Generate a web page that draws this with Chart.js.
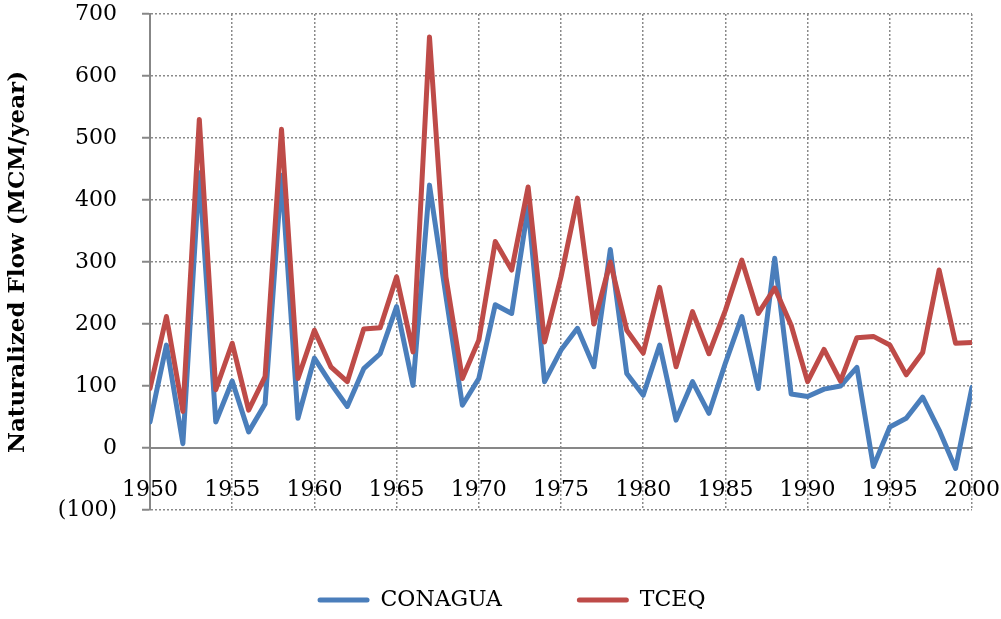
<!DOCTYPE html>
<html><head><meta charset="utf-8">
<script src="https://cdn.jsdelivr.net/npm/chart.js@4.4.1/dist/chart.umd.min.js"></script>
<style>html,body{margin:0;padding:0;background:#fff}#wrap{width:1001px;height:619px}</style>
</head><body><div id="wrap"><canvas id="c" width="1001" height="619"></canvas></div>
<script>
const years = [1950,1951,1952,1953,1954,1955,1956,1957,1958,1959,
  1960,1961,1962,1963,1964,1965,1966,1967,1968,1969,
  1970,1971,1972,1973,1974,1975,1976,1977,1978,1979,
  1980,1981,1982,1983,1984,1985,1986,1987,1988,1989,
  1990,1991,1992,1993,1994,1995,1996,1997,1998,1999,2000];
const conagua = [42,166,7,444,42,108,26,71,440,48,
  145,104,67,128,152,228,101,424,245,69,
  112,231,217,389,107,158,193,131,320,120,
  85,166,45,107,56,137,212,96,306,87,
  83,95,100,130,-30,34,48,82,29,-33,98];
const tceq = [96,212,59,530,94,169,61,115,514,112,
  190,131,107,192,194,276,155,663,276,112,
  174,333,287,421,171,276,403,200,300,190,
  153,259,131,220,152,222,303,217,258,198,
  107,159,108,178,180,166,118,154,287,169,170];
const seriesNames = ['CONAGUA','TCEQ'];
const yTickValues = [-100,0,100,200,300,400,500,600,700];
const xTickValues = [1950,1955,1960,1965,1970,1975,1980,1985,1990,1995,2000];

const toPts = arr => years.map((y,i)=>({x:y,y:arr[i]}));
const gridGray = '#8a8a8a';
const axisGray = '#878787';
const tickFont = {family:'DejaVu Serif', size:22};

const legendShift = {
  id:'legendShift',
  afterLayout(chart){
    const lg = chart.legend;
    if (!lg) return;
    lg.left += 11; lg.right += 11;
    lg.top += 4; lg.bottom += 4;
  }
};

new Chart(document.getElementById('c'), {
  type:'line',
  data:{datasets:[
    {label:seriesNames[0], data:toPts(conagua), borderColor:'#4a7ebb', backgroundColor:'#4a7ebb',
     borderWidth:5, pointRadius:0, tension:0, borderJoinStyle:'round', borderCapStyle:'round', order:2},
    {label:seriesNames[1], data:toPts(tceq), borderColor:'#be4b48', backgroundColor:'#be4b48',
     borderWidth:5, pointRadius:0, tension:0, borderJoinStyle:'round', borderCapStyle:'round', order:1}
  ]},
  plugins:[legendShift],
  options:{
    responsive:false, animation:false, devicePixelRatio:1,
    layout:{padding:{top:14,right:0,bottom:2,left:0}},
    plugins:{
      tooltip:{enabled:false},
      legend:{position:'bottom',
        labels:{boxWidth:52, boxHeight:5, padding:75, color:'#000', useBorderRadius:true, borderRadius:2.5,
          font:{family:'DejaVu Serif', size:22},
          generateLabels:(chart)=>Chart.defaults.plugins.legend.labels.generateLabels(chart)
            .map(it=>Object.assign(it,{lineWidth:0})),
          sort:(a,b)=>a.datasetIndex-b.datasetIndex}}
    },
    scales:{
      x:{type:'linear', min:1950, max:2000, position:{y:0},
        afterBuildTicks: s => { s.ticks = xTickValues.map(v=>({value:v})); },
        afterFit: s => { s.height = 0; s.paddingLeft = 0; s.paddingRight = 29; },
        ticks:{font:tickFont, color:'#000', padding:29, maxRotation:0, autoSkip:false,
          callback:v=>String(v)},
        grid:{color:gridGray, lineWidth:1.5, drawTicks:false},
        border:{display:true, color:axisGray, width:2, dash:[2,2]}
      },
      y:{type:'linear', min:-100, max:700,
        afterBuildTicks: s => { s.ticks = yTickValues.map(v=>({value:v})); },
        afterFit: s => { s.width = 150; s.paddingTop = 0; s.paddingBottom = 0; },
        ticks:{font:tickFont, color:'#000', padding:25,
          callback:v=> v<0 ? '('+(-v)+')' : String(v)},
        grid:{color:gridGray, lineWidth:1.5, drawTicks:true, tickLength:8,
          tickColor:axisGray, tickWidth:2, tickBorderDash:[]},
        border:{display:true, color:axisGray, width:2, dash:[2,2]},
        title:{display:true, text:'Naturalized Flow (MCM/year)', color:'#000',
          font:{family:'DejaVu Serif', size:23, weight:'bold'}, padding:{top:4,bottom:0}}
      }
    }
  }
});
</script>
</body></html>
